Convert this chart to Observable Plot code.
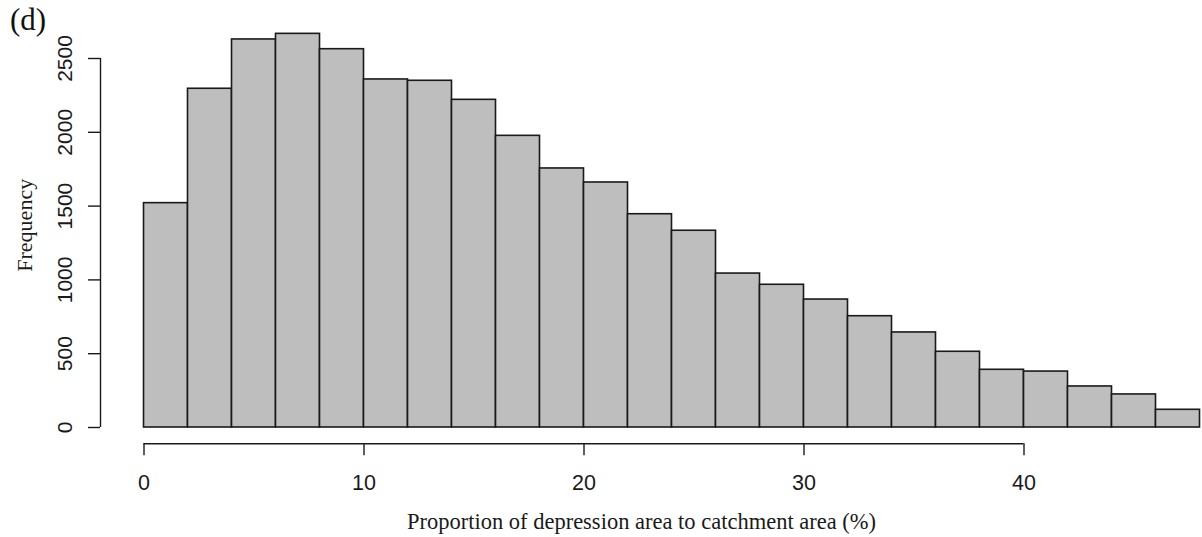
<!DOCTYPE html>
<html>
<head>
<meta charset="utf-8">
<script src="https://cdn.jsdelivr.net/npm/d3@7"></script>
<script src="https://cdn.jsdelivr.net/npm/@observablehq/plot@0.6"></script>
<style>
  html, body { margin: 0; padding: 0; background: #fff; }
  #wrap { position: relative; width: 1202px; height: 537px; }
  #wrap svg { position: absolute; left: 0; top: 0; }
  #tag { position: absolute; left: 10px; top: 0px; z-index: 2; font-family: "Liberation Serif", serif; font-size: 31px; line-height: 1; padding-top: 4px; color: #111; }
</style>
</head>
<body>
<div id="wrap"><div id="tag">(d)</div></div>
<script>
// Histogram bins (percent) and frequencies
const binLower = [0, 2, 4, 6, 8, 10, 12, 14, 16, 18, 20, 22, 24, 26, 28, 30, 32, 34, 36, 38, 40, 42, 44, 46];
const binUpper = [2, 4, 6, 8, 10, 12, 14, 16, 18, 20, 22, 24, 26, 28, 30, 32, 34, 36, 38, 40, 42, 44, 46, 48];
const frequency = [1520, 2295, 2629, 2667, 2563, 2358, 2349, 2220, 1976, 1755, 1660, 1445, 1333, 1043, 967, 867, 754, 644, 513, 391, 379, 278, 224, 120];
const xTicks = [0, 10, 20, 30, 40];
const yTicks = [0, 500, 1000, 1500, 2000, 2500];
const xTitle = "Proportion of depression area to catchment area (%)";
const yTitle = "Frequency";

const bins = binLower.map((lo, i) => ({lo, hi: binUpper[i], n: frequency[i]}));

const ink = "#1a1a1a";
const sans = "'Liberation Sans', Arial, sans-serif";
const serif = "'Liberation Serif', 'Times New Roman', serif";

const chart = Plot.plot({
  width: 1202,
  height: 537,
  marginLeft: 143.5,
  marginRight: 2.5,
  marginTop: 58,
  marginBottom: 110,
  style: {background: "white", color: ink, overflow: "visible"},
  x: {domain: [0, 48], axis: null},
  y: {domain: [0, 2500], axis: null},
  marks: [
    Plot.rectY(bins, {x1: "lo", x2: "hi", y1: 0, y2: "n", fill: "#bebebe", stroke: ink, strokeWidth: 1.6, inset: 0}),
    // y axis (R style, offset from the bars)
    Plot.ruleX([0], {y1: 0, y2: 2500, dx: -43.5, stroke: ink, strokeWidth: 1.4}),
    Plot.axisY(yTicks, {anchor: "left", tickSize: 12, tickPadding: 17, dx: -43.5, tickRotate: -90,
      tickFormat: d => String(d),
      fontSize: 21, fontFamily: sans, stroke: ink, strokeWidth: 1.4, fill: ink, label: null}),
    // x axis
    Plot.ruleY([0], {x1: 0, x2: 40, dy: 16.3, stroke: ink, strokeWidth: 1.4}),
    Plot.axisX(xTicks, {anchor: "bottom", tickSize: 12, tickPadding: 19, dy: 16.3,
      tickFormat: d => String(d),
      fontSize: 21.5, fontFamily: sans, stroke: ink, strokeWidth: 1.4, fill: ink, label: null}),
    // axis titles
    Plot.text([xTitle], {frameAnchor: "bottom", dx: -30.5, dy: 101, lineAnchor: "bottom", textAnchor: "middle",
      fontSize: 22.5, fontFamily: serif, fill: ink}),
    Plot.text([yTitle], {frameAnchor: "left", y: [1370], dx: -112, rotate: -90, lineAnchor: "bottom", textAnchor: "middle",
      fontSize: 22, fontFamily: serif, fill: ink})
  ]
});
const wrap = document.getElementById("wrap");
wrap.insertBefore(chart, wrap.firstChild);
</script>
</body>
</html>
